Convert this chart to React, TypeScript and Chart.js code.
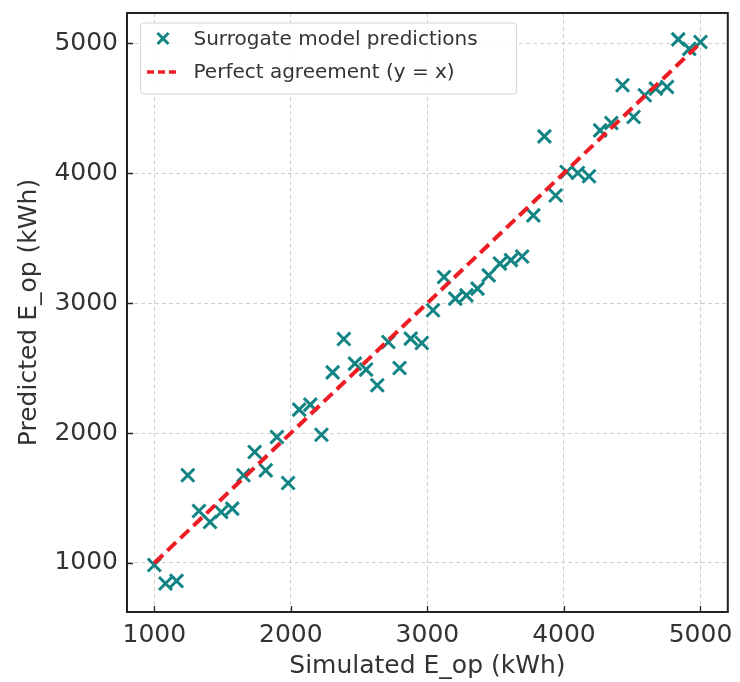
import React, { useEffect, useRef } from "react";
import { Chart, registerables } from "chart.js";

Chart.register(...registerables);

// Simulated operational energy (kWh) for each test case
const simulated = [
  1000, 1082, 1163, 1245, 1327, 1408, 1490, 1571, 1653, 1735,
  1816, 1898, 1980, 2061, 2143, 2224, 2306, 2388, 2469, 2551,
  2633, 2714, 2796, 2878, 2959, 3041, 3122, 3204, 3286, 3367,
  3449, 3531, 3612, 3694, 3776, 3857, 3939, 4020, 4102, 4184,
  4265, 4347, 4429, 4510, 4592, 4673, 4755, 4837, 4918, 5000,
];

// Surrogate model predictions (kWh) for the same cases
const predicted = [
  985, 842, 862, 1675, 1400, 1315, 1392, 1418, 1675, 1854,
  1713, 1969, 1615, 2180, 2218, 1987, 2466, 2723, 2534, 2488,
  2367, 2700, 2500, 2726, 2692, 2944, 3200, 3034, 3059, 3111,
  3213, 3303, 3330, 3358, 3674, 4282, 3827, 4008, 4000, 3975,
  4328, 4385, 4675, 4431, 4598, 4649, 4662, 5028, 4955, 5008,
];

// End points of the y = x reference line
const agreementLine = [1000, 5000];

const tickValues = [1000, 2000, 3000, 4000, 5000];
const xLimits = [800, 5200];
const yLimits = [623, 5231];

const seriesLabels = ["Surrogate model predictions", "Perfect agreement (y = x)"];

const TEAL = "#128484";
const RED = "#ee1c25";
const TEXT = "#333333";
const FONT = "'DejaVu Sans', sans-serif";

function drawCross(ctx: CanvasRenderingContext2D, x: number, y: number, h: number) {
  ctx.beginPath();
  ctx.moveTo(x - h, y - h);
  ctx.lineTo(x + h, y + h);
  ctx.moveTo(x - h, y + h);
  ctx.lineTo(x + h, y - h);
  ctx.stroke();
}

const framePlugin = {
  id: "frameAndLegend",
  afterDraw(chart: any) {
    const { ctx, chartArea } = chart;
    const { left, right, top, bottom } = chartArea;
    const xs = chart.scales.x;
    const ys = chart.scales.y;
    ctx.save();

    // inward ticks
    ctx.strokeStyle = "#222";
    ctx.lineWidth = 1.3;
    ctx.setLineDash([]);
    ctx.beginPath();
    for (const v of tickValues) {
      const px = Math.round(xs.getPixelForValue(v)) + 0.5;
      ctx.moveTo(px, bottom);
      ctx.lineTo(px, bottom - 6);
      const py = Math.round(ys.getPixelForValue(v)) + 0.5;
      ctx.moveTo(left, py);
      ctx.lineTo(left + 6, py);
    }
    ctx.stroke();

    // axes frame
    ctx.lineWidth = 2;
    ctx.strokeStyle = "#222";
    ctx.strokeRect(left, top, right - left, bottom - top);

    // legend
    const lx = left + 13.5;
    const ly = top + 10;
    const lw = 376;
    const lh = 71;
    ctx.beginPath();
    ctx.roundRect(lx, ly, lw, lh, 3);
    ctx.fillStyle = "rgba(255,255,255,0.92)";
    ctx.fill();
    ctx.lineWidth = 1;
    ctx.strokeStyle = "#d6d6d6";
    ctx.stroke();

    const row1 = ly + 15.5;
    const row2 = ly + 49;
    ctx.strokeStyle = TEAL;
    ctx.lineWidth = 3;
    drawCross(ctx, lx + 22.5, row1, 5.5);

    ctx.strokeStyle = RED;
    ctx.lineWidth = 3.5;
    ctx.setLineDash([7, 4]);
    ctx.beginPath();
    ctx.moveTo(lx + 6.5, row2);
    ctx.lineTo(lx + 37, row2);
    ctx.stroke();
    ctx.setLineDash([]);

    ctx.fillStyle = TEXT;
    ctx.font = `20px ${FONT}`;
    ctx.textBaseline = "middle";
    ctx.textAlign = "left";
    ctx.fillText(seriesLabels[0], lx + 53, row1 + 1);
    ctx.fillText(seriesLabels[1], lx + 53, row2 + 1);

    ctx.restore();
  },
};

const plainNumber = (v: string | number) => String(v);

export default function App() {
  const canvasRef = useRef<HTMLCanvasElement | null>(null);

  useEffect(() => {
    const canvas = canvasRef.current;
    if (!canvas) return;

    const points = simulated.map((x, i) => ({ x, y: predicted[i] }));
    const line = agreementLine.map((v) => ({ x: v, y: v }));

    const gridOpts = {
      color: "#cfcfcf",
      lineWidth: 1,
      drawTicks: false,
    };

    const clearPadding = (s: any) => {
      s.paddingTop = 0;
      s.paddingBottom = 0;
      s.paddingLeft = 0;
      s.paddingRight = 0;
    };

    const chart = new Chart(canvas, {
      type: "scatter",
      data: {
        datasets: [
          {
            label: seriesLabels[0],
            data: points,
            pointStyle: "crossRot",
            pointRadius: 9.2,
            pointHoverRadius: 9.2,
            pointBorderWidth: 3,
            borderColor: TEAL,
            backgroundColor: TEAL,
            showLine: false,
            order: 2,
          },
          {
            label: seriesLabels[1],
            data: line,
            showLine: true,
            borderColor: RED,
            borderWidth: 4,
            borderDash: [12, 6],
            pointRadius: 0,
            fill: false,
            order: 1,
          } as any,
        ],
      },
      options: {
        animation: false,
        responsive: false,
        maintainAspectRatio: false,
        layout: { padding: { top: 13, right: 9, left: 0, bottom: 0 } },
        plugins: {
          legend: { display: false },
          tooltip: { enabled: false },
        },
        scales: {
          x: {
            type: "linear",
            min: xLimits[0],
            max: xLimits[1],
            afterBuildTicks: (s: any) => {
              s.ticks = tickValues.map((value) => ({ value }));
            },
            afterFit: (s: any) => {
              s.height = 70;
              clearPadding(s);
            },
            grid: { ...gridOpts } as any,
            border: { display: false, dash: [4, 3] } as any,
            ticks: {
              color: TEXT,
              font: { family: FONT, size: 25 },
              padding: 8,
              maxRotation: 0,
              callback: plainNumber,
            },
            title: {
              display: true,
              text: "Simulated E_op (kWh)",
              color: TEXT,
              font: { family: FONT, size: 25 },
              padding: { top: 0, bottom: 1 },
            },
          },
          y: {
            type: "linear",
            min: yLimits[0],
            max: yLimits[1],
            afterBuildTicks: (s: any) => {
              s.ticks = tickValues.map((value) => ({ value }));
            },
            afterFit: (s: any) => {
              s.width = 127;
              clearPadding(s);
            },
            grid: { ...gridOpts } as any,
            border: { display: false, dash: [4, 3] } as any,
            ticks: {
              color: TEXT,
              font: { family: FONT, size: 25 },
              padding: 9,
              callback: plainNumber,
            },
            title: {
              display: true,
              text: "Predicted E_op (kWh)",
              color: TEXT,
              font: { family: FONT, size: 25 },
              padding: { top: 14, bottom: 0 },
            },
          },
        },
      },
      plugins: [framePlugin],
    });

    return () => chart.destroy();
  }, []);

  return (
    <div style={{ position: "absolute", left: 0, top: 0, width: 740, height: 682, background: "#fff" }}>
      <canvas ref={canvasRef} width={740} height={682} style={{ width: 740, height: 682, display: "block" }} />
    </div>
  );
}
